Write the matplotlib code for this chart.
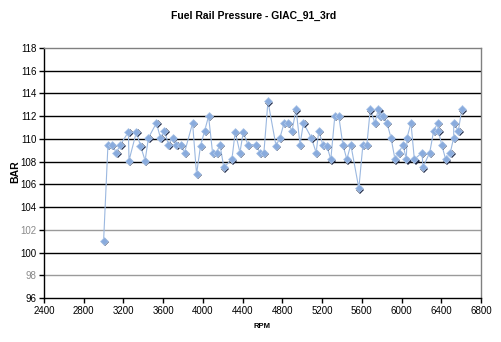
import matplotlib
matplotlib.use("Agg")
import matplotlib.pyplot as plt
import matplotlib.transforms as mtransforms

# Logged fuel rail pressure against engine speed
rpm = [3000, 3044, 3084, 3128, 3169, 3250, 3256, 3330, 3371, 3418, 3452,
       3532, 3572, 3613, 3653, 3694, 3734, 3775, 3815, 3896, 3936, 3976,
       4017, 4057, 4097, 4138, 4171, 4211, 4292, 4325, 4373, 4406, 4453,
       4534, 4574, 4614, 4655, 4736, 4776, 4817, 4857, 4897, 4938, 4978,
       5012, 5092, 5140, 5167, 5207, 5247, 5288, 5328, 5368, 5409, 5449,
       5489, 5570, 5611, 5651, 5685, 5732, 5766, 5779, 5813, 5853, 5894,
       5934, 5974, 6015, 6048, 6055, 6095, 6129, 6207, 6215, 6284, 6323,
       6364, 6371, 6404, 6444, 6491, 6525, 6525, 6572, 6606]
bar = [101.0, 109.5, 109.5, 108.8, 109.5, 110.6, 108.1, 110.6, 109.4, 108.1, 110.1,
       111.4, 110.1, 110.7, 109.5, 110.1, 109.5, 109.5, 108.8, 111.4, 106.9, 109.4,
       110.7, 112.0, 108.8, 108.8, 109.5, 107.5, 108.2, 110.6, 108.8, 110.6, 109.5,
       109.5, 108.8, 108.8, 113.3, 109.4, 110.1, 111.4, 111.4, 110.7, 112.6, 109.5,
       111.4, 110.1, 108.8, 110.7, 109.5, 109.4, 108.2, 112.0, 112.0, 109.5, 108.2,
       109.5, 105.65, 109.5, 109.5, 112.6, 111.4, 112.6, 112.0, 112.0, 111.4, 110.1,
       108.2, 108.8, 109.5, 108.2, 110.1, 111.4, 108.2, 108.8, 107.5, 108.8, 110.7,
       111.4, 110.7, 109.5, 108.2, 108.8, 110.1, 111.4, 110.7, 112.6]

x_ticks = list(range(2400, 6801, 400))
y_ticks = list(range(96, 119, 2))
dark_grid = [100, 104, 106, 108, 110, 112, 114, 116]
light_grid = [98, 102]

title = "Fuel Rail Pressure - GIAC_91_3rd"
x_label = "RPM"
y_label = "BAR"

plt.rcParams['font.family'] = ['Liberation Sans', 'DejaVu Sans']

fig = plt.figure(figsize=(5.01, 3.42), dpi=100)
ax = fig.add_axes([44 / 501, 1 - 298 / 342, 437 / 501, 250 / 342])

ax.set_xlim(2400, 6800)
ax.set_ylim(96, 118)

for g in dark_grid:
    ax.axhline(g, color='black', lw=1.0, zorder=1)
for g in light_grid:
    ax.axhline(g, color='#9a9a9a', lw=1.0, zorder=1)

ax.plot(rpm, bar, color='#9bb8e0', lw=0.8, zorder=2)

# dark drop shadow under each diamond, then the diamond itself
shadow = mtransforms.offset_copy(ax.transData, fig=fig, x=1.2, y=-1.2, units='dots')
ax.plot(rpm, bar, linestyle='none', marker='D', markersize=4.2,
        color='#1c2540', markeredgewidth=0, transform=shadow, zorder=3)
ax.plot(rpm, bar, linestyle='none', marker='D', markersize=4.2,
        markerfacecolor='#89abdd', markeredgecolor='#b3cbeb',
        markeredgewidth=0.5, zorder=4)

ax.set_xticks(x_ticks)
ax.set_yticks(y_ticks)
ax.tick_params(axis='both', direction='out', length=3.5, width=1.0,
               labelsize=7, colors='black', pad=2)
for lbl, v in zip(ax.get_yticklabels(), y_ticks):
    if v in light_grid:
        lbl.set_color('#8a8a8a')

for side in ('top', 'right'):
    ax.spines[side].set_color('#808080')
    ax.spines[side].set_linewidth(1.0)
for side in ('left', 'bottom'):
    ax.spines[side].set_color('black')
    ax.spines[side].set_linewidth(1.0)

fig.text(254 / 501, 1 - 16 / 342, title, ha='center', va='center',
         fontsize=7.5, fontweight='bold')
fig.text(262 / 501, 1 - 327 / 342, x_label, ha='center', va='center',
         fontsize=5.5, fontweight='bold')
fig.text(15 / 501, 1 - 172 / 342, y_label, ha='center', va='center',
         fontsize=7.5, fontweight='bold', rotation=90)

fig.savefig("out.png", dpi=100)
